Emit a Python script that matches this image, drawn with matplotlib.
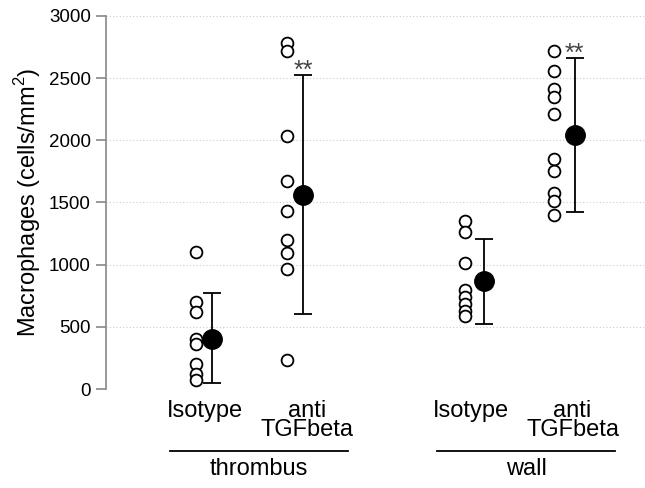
import matplotlib
matplotlib.use('agg')
import matplotlib.pyplot as plt

plt.rcParams['font.family'] = ['Liberation Sans', 'DejaVu Sans']
plt.rcParams['mathtext.fontset'] = 'custom'
plt.rcParams['mathtext.rm'] = 'Liberation Sans'

# data (cells/mm2)
categories = ['Isotype', 'anti\nTGFbeta', 'Isotype', 'anti\nTGFbeta']
groups = ['thrombus', 'wall']
thrombus_isotype = [1100, 700, 620, 400, 360, 200, 120, 75]
thrombus_anti = [2780, 2715, 2035, 1670, 1435, 1200, 1090, 965, 235]
wall_isotype = [1350, 1265, 1010, 800, 740, 680, 630, 590]
wall_anti = [2715, 2560, 2410, 2345, 2210, 1850, 1755, 1575, 1515, 1400]
means = [400, 1560, 870, 2040]
err_upper = [770, 2525, 1210, 2660]
err_lower = [50, 605, 520, 1420]
significance = ['', '**', '', '**']

# layout
cat_x = [0, 1, 2.6, 3.6]
circle_off = [-0.09, -0.2, -0.05, -0.18]
mean_off = [0.07, -0.04, 0.13, 0.02]

fig = plt.figure(figsize=(6.45, 4.88), dpi=100)
ax = fig.add_axes([106 / 645, 99 / 488, 539 / 645, 373 / 488])

points = [thrombus_isotype, thrombus_anti, wall_isotype, wall_anti]
for i, vals in enumerate(points):
    ax.plot([cat_x[i] + circle_off[i]] * len(vals), vals, 'o', ms=8.5,
            mfc='white', mec='black', mew=1.3, clip_on=False, zorder=3)
    mx = cat_x[i] + mean_off[i]
    ax.errorbar(mx, means[i],
                yerr=[[means[i] - err_lower[i]], [err_upper[i] - means[i]]],
                fmt='o', ms=14, color='black', ecolor='black', elinewidth=1.3,
                capsize=6.5, capthick=1.3, clip_on=False, zorder=4)
    if significance[i]:
        ax.text(mx, err_upper[i] + 35, significance[i], ha='center', va='center',
                fontsize=18, color='#444444')

ax.set_ylim(0, 3000)
ax.set_xlim(-0.97, 4.31)
ax.set_yticks(range(0, 3001, 500))
ax.yaxis.grid(True, linestyle=(0, (1, 2)), color='#cccccc', linewidth=0.8)
ax.set_axisbelow(True)
for s in ['top', 'right', 'bottom']:
    ax.spines[s].set_visible(False)
ax.spines['left'].set_color('#888888')
ax.spines['left'].set_linewidth(1.2)
ax.tick_params(axis='y', length=7, width=1.2, color='#888888', labelsize=13.5, pad=4)

ax.set_xticks(cat_x)
ax.set_xticklabels(categories, fontsize=17, linespacing=0.82)
ax.tick_params(axis='x', length=0, pad=8)

ax.set_ylabel('Macrophages (cells/mm$^2$)', fontsize=17, labelpad=4)

# group brackets under the category labels
line_y = -0.166
spans = [(-0.34, 1.40), (2.27, 4.02)]
trans = ax.get_xaxis_transform()
for (x0, x1), name in zip(spans, groups):
    ax.plot([x0, x1], [line_y, line_y], color='black', lw=1.3,
            transform=trans, clip_on=False)
    ax.text((x0 + x1) / 2, line_y - 0.02, name, transform=trans,
            ha='center', va='top', fontsize=17)

fig.savefig('out.png', dpi=100)
